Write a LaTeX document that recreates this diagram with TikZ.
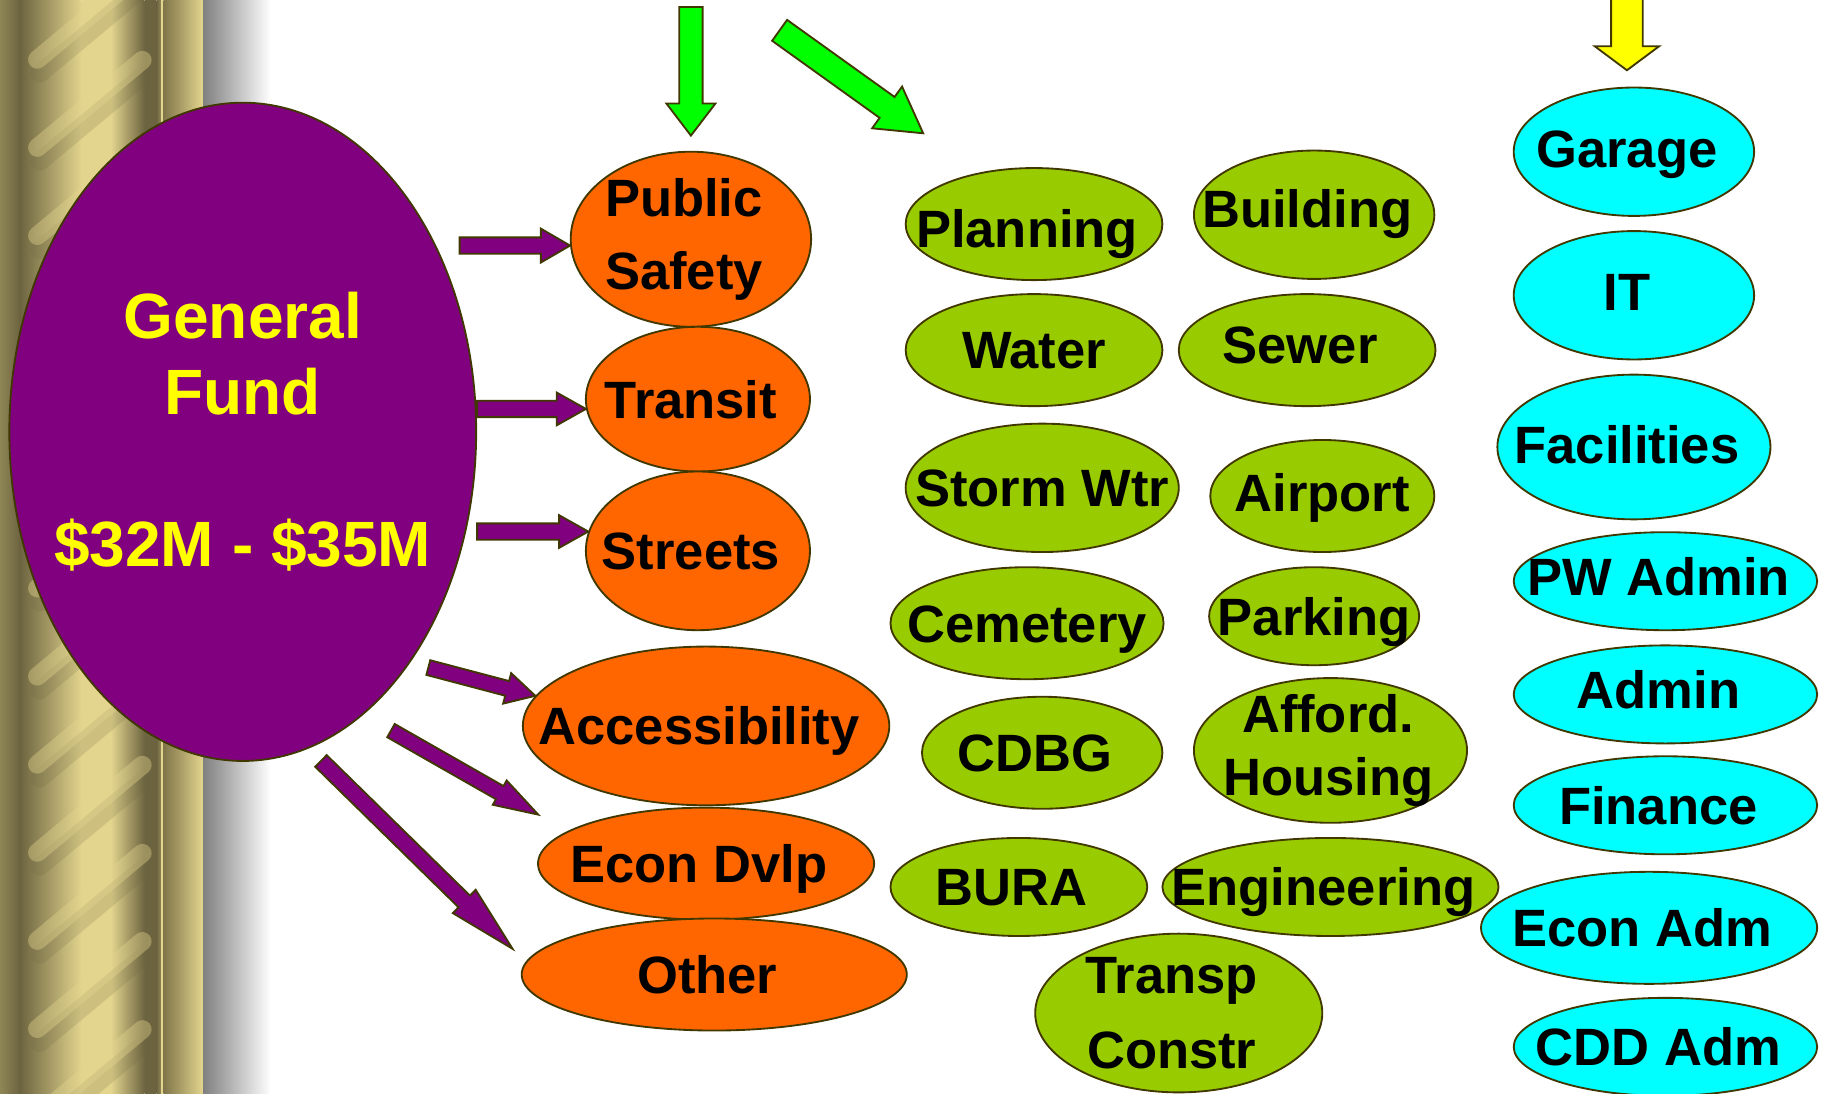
\documentclass[tikz,border=0pt]{standalone}
\usepackage{fontspec}
\setmainfont{Liberation Sans}
\usetikzlibrary{calc,shapes.geometric}

\definecolor{fundpurple}{RGB}{128,0,128}
\definecolor{fundyellow}{RGB}{255,255,0}
\definecolor{opsorange}{RGB}{255,102,0}
\definecolor{entgreen}{RGB}{153,204,0}
\definecolor{admcyan}{RGB}{0,255,255}
\definecolor{arrowgreen}{RGB}{0,255,0}
\definecolor{rim}{RGB}{64,56,0}
\definecolor{colmid}{RGB}{143,134,86}
\definecolor{coldark}{RGB}{108,100,64}
\definecolor{collight}{RGB}{227,213,142}
\definecolor{colstrip}{RGB}{127,117,73}

% block arrow: [style](tail)(tip)(shaft half width:head half width:head length)
\def\blockarrow[#1](#2)(#3)(#4:#5:#6){%
	\coordinate (ba) at ($(#3)!#6!(#2)$);
	\draw[#1] ($(#2)!#4!90:(#3)$) -- ($(ba)!#4!90:(#3)$) -- ($(ba)!#5!90:(#3)$) -- (#3)
		-- ($(ba)!#5!-90:(#3)$) -- ($(ba)!#4!-90:(#3)$) -- ($(#2)!#4!-90:(#3)$) -- cycle;}

\begin{document}
\begin{tikzpicture}[x=0.01cm, y=-0.01cm,
	sz/.style 2 args={minimum width=#1*0.01cm, minimum height=#2*0.01cm},
	bub/.style={ellipse, draw=rim, line width=0.45pt, inner sep=0pt},
	opsbub/.style={bub, fill=opsorange},
	entbub/.style={bub, fill=entgreen},
	admbub/.style={bub, fill=admcyan},
	txt/.style={font=\fontsize{12.8}{17.9}\selectfont\bfseries, align=center, inner sep=0pt,
		xshift=-0.06cm, text height=9.2pt, text depth=0pt},
	mtxt/.style={txt, text height=, text depth=},
	ctxt/.style={txt, xshift=0.06cm},
	fundarrow/.style={fill=fundpurple, draw=rim, line width=0.45pt},
	grnarrow/.style={fill=arrowgreen, draw=rim, line width=0.45pt},
	yelarrow/.style={fill=fundyellow, draw=rim, line width=0.45pt}]
			%%%%% START %%%%%
			
			\useasboundingbox (0,0) rectangle (1568,937);
			
			% column
			\shade[left color=colmid, right color=coldark] (0,0) rectangle (17,937);
			\shade[left color=coldark, right color=collight] (17,0) rectangle (70,937);
			\fill[collight] (70,0) rectangle (95,937);
			\shade[left color=collight, right color=coldark] (95,0) rectangle (124,937);
			\fill[coldark] (124,0) rectangle (134,937);
			\shade[left color=coldark, right color=colmid] (134,0) rectangle (138,937);
			\fill[collight] (138,0) rectangle (140,937);
			\shade[left color=colstrip, right color=collight] (140,0) rectangle (174,937);
			\shade[left color=black!50, right color=white] (174,0) rectangle (232,937);
			\begin{scope}
				\clip (0,0) rectangle (138,937);
				\foreach \y in {51,126.5,...,1000}{
					\draw[line width=4.5pt, coldark, opacity=0.18, line cap=round] (34,\y+12) -- ++(90,-75);
					\draw[line width=4.5pt, collight, opacity=0.4, line cap=round] (32,\y) -- ++(90,-75);
				}
			\end{scope}
			
			% general fund
			\node[ellipse, draw=rim, line width=0.45pt, fill=fundpurple, text=fundyellow, sz={400}{564},
				inner sep=-4mm, align=center, font=\fontsize{15.6}{18.5}\selectfont\bfseries]
				(gf) at (208,370) {General\\Fund\\[18.5pt]\$32M - \$35M};
			
			% orange
			\node[opsbub, sz={206}{150}, label={[mtxt]center:Public\\Safety}] (ps) at (592,205) {};
			\node[opsbub, sz={192}{124}, label={[txt]center:Transit}] (tr) at (598,342) {};
			\node[opsbub, sz={192}{136}, label={[txt]center:Streets}] (st) at (598,472) {};
			\node[opsbub, sz={314}{136}, label={[txt]center:Accessibility}] (ac) at (605,622) {};
			\node[opsbub, sz={288}{96}, label={[txt]center:Econ Dvlp}] (ed) at (605,740) {};
			\node[opsbub, sz={330}{96}, label={[txt]center:Other}] (ot) at (612,835) {};
			
			% green
			\node[entbub, sz={220}{96}, label={[txt, yshift=-0.04cm]center:Planning}] (pl) at (886,192) {};
			\node[entbub, sz={206}{110}, label={[txt, yshift=0.05cm]center:Building}] (bu) at (1126,184) {};
			\node[entbub, sz={220}{96}, label={[ctxt]center:Water}] (wa) at (886,300) {};
			\node[entbub, sz={220}{96}, label={[txt, yshift=0.045cm]center:Sewer}] (se) at (1120,300) {};
			\node[entbub, sz={234}{110}, label={[ctxt]center:Storm Wtr}] (sw) at (893,418) {};
			\node[entbub, sz={192}{96}, label={[ctxt, yshift=0.03cm]center:Airport}] (ai) at (1133,425) {};
			\node[entbub, sz={234}{96}, label={[ctxt]center:Cemetery}] (ce) at (880,534) {};
			\node[entbub, sz={180}{84}, label={[ctxt]center:Parking}] (pa) at (1126,528) {};
			\node[entbub, sz={206}{96}, label={[txt]center:CDBG}] (cd) at (893,645) {};
			\node[entbub, sz={234}{124}, label={[mtxt, xshift=0.04cm, font=\fontsize{12.8}{15.4}\selectfont\bfseries]center:Afford.\\Housing}] (ah) at (1140,643) {};
			\node[entbub, sz={220}{84}, label={[txt]center:BURA}] (bura) at (873,760) {};
			\node[entbub, sz={288}{84}, label={[txt]center:Engineering}] (en) at (1140,760) {};
			\node[entbub, sz={246}{136}, label={[mtxt, font=\fontsize{12.8}{18.2}\selectfont\bfseries]center:Transp\\Constr}] (tc) at (1010,868) {};
			
			% cyan
			\node[admbub, sz={206}{110}, label={[txt, yshift=0.03cm]center:Garage}] (ga) at (1400,130) {};
			\node[admbub, sz={206}{110}, label={[txt, yshift=0.03cm]center:IT}] (it) at (1400,253) {};
			\node[admbub, sz={234}{124}, label={[txt, yshift=0.02cm]center:Facilities}] (fa) at (1400,383) {};
			\node[admbub, sz={260}{84}, label={[txt, yshift=0.04cm]center:PW Admin}] (pw) at (1427,498) {};
			\node[admbub, sz={260}{84}, label={[txt, yshift=0.04cm]center:Admin}] (ad) at (1427,595) {};
			\node[admbub, sz={260}{84}, label={[txt]center:Finance}] (fi) at (1427,690) {};
			\node[admbub, sz={288}{96}, label={[txt]center:Econ Adm}] (ea) at (1413,795) {};
			\node[admbub, sz={260}{84}, label={[txt]center:CDD Adm}] (cda) at (1427,897) {};
			
			% arrow ends
			\coordinate (h1) at (ps.183);
			\coordinate (t1) at ($(gf.east |- h1)+(-15,0)$);
			\coordinate (h2) at (tr.185);
			\coordinate (t2) at (gf.east |- h2);
			\coordinate (h3) at (st.170);
			\coordinate (t3) at (gf.east |- h3);
			\coordinate (h4) at (ac.170);
			\coordinate (t4) at (367,572);
			\coordinate (h5) at ($(ed.west)+(1,-42)$);
			\coordinate (t5) at (335,626);
			\coordinate (h6) at ($(ot.west)+(-7,-22)$);
			\coordinate (t6) at (275,652);
			\coordinate (hg1) at ($(ps.north)+(0,-13)$);
			\coordinate (tg1) at (592,6);
			\coordinate (hg2) at ($(pl.north)+(-95,-29)$);
			\coordinate (tg2) at (668,26);
			\coordinate (hy) at ($(ga.north)+(-6,-14)$);
			\coordinate (ty) at (1394,-5);
			
			\blockarrow[fundarrow](t1)(h1)(0.07cm:0.145cm:0.25cm)
			\blockarrow[fundarrow](t2)(h2)(0.07cm:0.14cm:0.25cm)
			\blockarrow[fundarrow](t3)(h3)(0.07cm:0.14cm:0.25cm)
			\blockarrow[fundarrow](t4)(h4)(0.065cm:0.135cm:0.25cm)
			\blockarrow[fundarrow](t5)(h5)(0.065cm:0.12cm:0.38cm)
			\blockarrow[fundarrow](t6)(h6)(0.07cm:0.14cm:0.58cm)
			\blockarrow[grnarrow](tg1)(hg1)(0.1cm:0.21cm:0.275cm)
			\blockarrow[grnarrow](tg2)(hg2)(0.11cm:0.22cm:0.38cm)
			\blockarrow[yelarrow](ty)(hy)(0.135cm:0.275cm:0.205cm)
			
			%%%%% END %%%%%
\end{tikzpicture}
\end{document}
